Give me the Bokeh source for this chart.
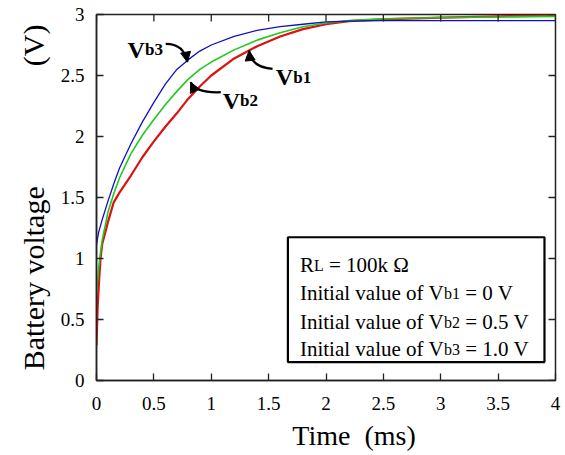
from bokeh.plotting import figure
from bokeh.models import (Range1d, FixedTicker, Label, Arrow, NormalHead,
                          BoxAnnotation, ColumnDataSource)
from bokeh.embed import file_html
from bokeh.resources import INLINE

# ---- data ----
time_ms = [0, 0.01, 0.02, 0.035, 0.05, 0.1, 0.15, 0.2, 0.3, 0.4, 0.5, 0.6, 0.7, 0.8, 0.9,
           1.0, 1.2, 1.4, 1.6, 1.8, 2.0, 2.2, 2.5, 3.0, 3.5, 4.0]
vb1 = [0.29, 0.60, 0.78, 1.00, 1.12, 1.30, 1.46, 1.54, 1.68, 1.83, 1.96, 2.08, 2.19, 2.31, 2.41,
       2.50, 2.64, 2.74, 2.82, 2.88, 2.92, 2.945, 2.96, 2.975, 2.985, 2.99]
vb2 = [0.72, 0.83, 0.93, 1.05, 1.15, 1.38, 1.53, 1.66, 1.86, 2.01, 2.14, 2.26, 2.37, 2.47, 2.55,
       2.61, 2.71, 2.79, 2.85, 2.90, 2.93, 2.95, 2.965, 2.975, 2.98, 2.985]
vb3 = [1.11, 1.17, 1.22, 1.27, 1.32, 1.47, 1.61, 1.74, 1.94, 2.12, 2.28, 2.43, 2.55, 2.63, 2.70,
       2.75, 2.82, 2.87, 2.90, 2.92, 2.94, 2.945, 2.95, 2.95, 2.95, 2.95]

x_ticks = [0, 0.5, 1, 1.5, 2, 2.5, 3, 3.5, 4]
x_tick_labels = ["0", "0.5", "1", "1.5", "2", "2.5", "3", "3.5", "4"]
y_ticks = [0, 0.5, 1, 1.5, 2, 2.5, 3]
y_tick_labels = ["0", "0.5", "1", "1.5", "2", "2.5", "3"]

# callouts: label, label position, arrow start, control, end
callouts = [
    ("b3", (0.271, 2.713), (0.603, 2.76), (0.763, 2.76), (0.792, 2.61)),
    ("b2", (1.100, 2.295), (1.083, 2.363), (0.865, 2.355), (0.821, 2.445)),
    ("b1", (1.563, 2.484), (1.534, 2.555), (1.345, 2.568), (1.330, 2.704)),
]

legend_lines = [
    ("R", "L", "= 100k \u03a9"),
    ("Initial value of V", "b1", "= 0 V"),
    ("Initial value of V", "b2", "= 0.5 V"),
    ("Initial value of V", "b3", "= 1.0 V"),
]
legend_baselines = [0.945, 0.716, 0.479, 0.258]
legend_box = (1.668, 3.904, 1.174, 0.151)  # left, right, top, bottom
legend_text_x = 1.773

FONT = "Liberation Serif"
NB = "\u00a0"
INK = "black"

# Times-compatible advance widths (per 1000 em)
W = {" ": 250, "I": 333, "n": 500, "i": 278, "t": 278, "a": 444, "l": 278, "v": 500,
     "u": 500, "e": 444, "o": 500, "f": 333, "V": 722, "R": 667, "L": 611, "b": 500,
     "0": 500, "1": 500, "2": 500, "3": 500, "=": 564, ".": 250, "k": 500, "\u03a9": 768}


def tw(s, size):
    return sum(W.get(c, 500) for c in s) * size / 1000.0


FRAME_W, FRAME_H = 459, 366
p = figure(width=565, height=455, output_backend="svg", toolbar_location=None,
           x_range=Range1d(0, 4), y_range=Range1d(0, 3),
           min_border_left=96, min_border_right=10, min_border_top=14,
           min_border_bottom=75)
p.background_fill_color = "white"
p.border_fill_color = "white"
p.outline_line_color = "#222222"
p.outline_line_width = 1.5
p.xgrid.visible = False
p.ygrid.visible = False

p.line(time_ms, vb1, line_color="#e01010", line_width=2.2)
p.line(time_ms, vb2, line_color="#20c820", line_width=1.6)
p.line(time_ms, vb3, line_color="#1010c0", line_width=1.3)

for ax, ticks, labels in ((p.xaxis[0], x_ticks, x_tick_labels),
                          (p.yaxis[0], y_ticks, y_tick_labels)):
    ax.ticker = FixedTicker(ticks=ticks)
    ax.major_label_overrides = {t: l for t, l in zip(ticks, labels)}
    ax.major_tick_in = 7
    ax.major_tick_out = 0
    ax.minor_tick_line_color = None
    ax.axis_line_color = "#222222"
    ax.axis_line_width = 1.5
    ax.major_tick_line_color = "#222222"
    ax.major_tick_line_width = 1.3
    ax.major_label_text_font = FONT
    ax.major_label_text_color = INK
    ax.major_label_text_font_size = "19px"
    ax.major_label_standoff = 12
    ax.axis_label_text_font = FONT
    ax.axis_label_text_color = INK
    ax.axis_label_text_font_style = "normal"

p.xaxis[0].major_label_standoff = 16
p.xaxis[0].axis_label = NB * 8 + "Time" + NB * 2 + "(ms)"
p.xaxis[0].axis_label_text_font_size = "28px"
p.xaxis[0].axis_label_standoff = 7

p.yaxis[0].axis_label = "Battery voltage" + NB * 16 + "(V)"
p.yaxis[0].axis_label_text_font_size = "30px"
p.yaxis[0].axis_label_standoff = 8

# mirrored inward ticks on the top and right frame edges
dy = 7 * 3 / FRAME_H
dx = 7 * 4 / FRAME_W
p.segment(x0=x_ticks, y0=[3] * len(x_ticks), x1=x_ticks, y1=[3 - dy] * len(x_ticks),
          line_color="#222222", line_width=1.3)
p.segment(x0=[4] * len(y_ticks), y0=y_ticks, x1=[4 - dx] * len(y_ticks), y1=y_ticks,
          line_color="#222222", line_width=1.3)

# callout arrows
cs = ColumnDataSource(dict(
    x0=[c[2][0] for c in callouts], y0=[c[2][1] for c in callouts],
    cx=[c[3][0] for c in callouts], cy=[c[3][1] for c in callouts],
    x1=[c[4][0] for c in callouts], y1=[c[4][1] for c in callouts]))
p.quadratic(x0="x0", y0="y0", x1="x1", y1="y1", cx="cx", cy="cy", source=cs,
            line_color="black", line_width=2.2)
p.add_layout(Arrow(end=NormalHead(size=10, fill_color="black", line_color="black"),
                   x_start="cx", y_start="cy", x_end="x1", y_end="y1", source=cs,
                   line_alpha=0))

V_SIZE, SUB_SIZE = 24, 17
for sub, (lx, ly), *_ in callouts:
    p.add_layout(Label(x=lx, y=ly, text="V", text_font=FONT, text_font_size=f"{V_SIZE}px",
                       text_font_style="bold", text_baseline="alphabetic", text_color=INK))
    p.add_layout(Label(x=lx, y=ly, x_offset=tw("V", V_SIZE), text=sub, text_font=FONT,
                       text_font_size=f"{SUB_SIZE}px", text_font_style="bold",
                       text_baseline="alphabetic", text_color=INK))

# legend box
bl, br, bt, bb = legend_box
p.add_layout(BoxAnnotation(left=bl, right=br, top=bt, bottom=bb, fill_color="white",
                           fill_alpha=1.0, line_color="black", line_alpha=1.0,
                           line_width=2.2))
MAIN, SUB = 21, 16
for (a, s, b), yb in zip(legend_lines, legend_baselines):
    w1 = tw(a, MAIN)
    w2 = tw(s, SUB)
    p.add_layout(Label(x=legend_text_x, y=yb, text=a, text_font=FONT, text_color=INK,
                       text_font_size=f"{MAIN}px", text_baseline="alphabetic"))
    p.add_layout(Label(x=legend_text_x, y=yb, x_offset=w1, text=s, text_font=FONT,
                       text_color=INK, text_font_size=f"{SUB}px",
                       text_baseline="alphabetic"))
    p.add_layout(Label(x=legend_text_x, y=yb, x_offset=w1 + w2 + tw(" ", MAIN), text=b,
                       text_font=FONT, text_color=INK, text_font_size=f"{MAIN}px",
                       text_baseline="alphabetic"))

open("out.html", "w").write(file_html(p, INLINE))
